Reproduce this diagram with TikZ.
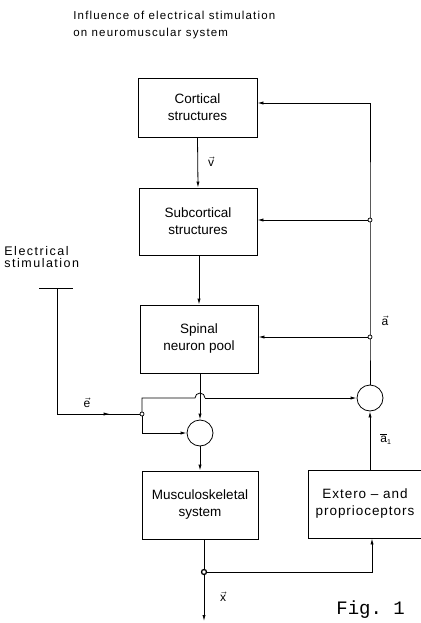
\documentclass[tikz,border=0pt]{standalone}
\usepackage{fontspec}
\setmainfont{Liberation Sans}
\setmonofont{Liberation Mono}
\usetikzlibrary{arrows.meta,decorations.markings}
\begin{document}
\begin{tikzpicture}[x=1pt,y=-1pt,line width=0.8pt,
  box/.style={draw,align=center,inner sep=0pt,font=\fontsize{13.5}{17}\selectfont},
  sumnode/.style={draw,circle,minimum size=26pt,inner sep=0pt},
  arr/.style={-{Latex[length=6pt,width=3.2pt]}},
  jdot/.style={circle,draw,fill=white,inner sep=0pt,minimum size=4pt,line width=0.7pt},
  lab/.style={font=\fontsize{12}{14}\selectfont,inner sep=1pt},
  midarr/.style={decoration={markings,mark=at position #1 with {\arrow{Latex[length=6pt,width=3.2pt]}}},postaction={decorate}}]
\useasboundingbox (0,0) rectangle (420,623);

% title
\node[anchor=north west,align=left,inner sep=0pt,
      font=\addfontfeatures{LetterSpace=10}\fontsize{11.5}{17}\selectfont] (title) at (73,11)
  {Influence of electrical stimulation\\on neuromuscular system};

% boxes
\node[box,minimum width=119pt,minimum height=59pt] (cort) at (197.5,107.5) {Cortical\\structures};
\node[box,minimum width=118pt,minimum height=67pt] (sub) at (198,221.5) {Subcortical\\structures};
\node[box,minimum width=118pt,minimum height=68pt] (spin) at (199,339) {Spinal\\neuron pool};
\node[box,minimum width=116pt,minimum height=68pt] (musc) at (200,505) {Musculoskeletal\\system};
\node[box,minimum width=114pt,minimum height=68pt,
      font=\addfontfeatures{LetterSpace=7}\fontsize{13.5}{17}\selectfont] (ext) at (365,504) {Extero -- and\\proprioceptors};

% summing circles
\node[sumnode] (sum1) at (200,433) {};
\node[sumnode] (sum2) at (370,398) {};

% forward chain
\draw[arr] (cort.south) -- (sub.north);
\draw[arr] (sub.south) -- (spin.south |- sub.south) -- (spin.north);
\draw[arr] (sum1.north |- spin.south) -- (sum1.north);
\draw[arr] (sum1.south) -- (sum1.south |- musc.north);

% feedback line
\coordinate (jc) at (370,103);
\coordinate (js) at (370,220);
\coordinate (jp) at (370,337);
\draw (sum2.north) -- (jp) -- (js) -- (jc);
\draw[arr] (jc) -- (jc -| cort.east);
\draw[arr] (js) -- (js -| sub.east);
\draw[arr] (jp) -- (jp -| spin.east);
\node[jdot] (djs) at (js) {};
\node[jdot] (djp) at (jp) {};

% output and receptor loop
\coordinate (xo) at (204,572);
\coordinate (ec) at (372,572);
\coordinate (xend) at (204,621);
\draw (xo |- musc.south) -- (xo);
\draw[arr] (xo) -- (xend);
\draw[arr] (xo) -- (ec) -- (ec |- ext.south);
\draw[arr] (sum2.south |- ext.north) -- (sum2.south);
\node[circle,draw,fill=white,inner sep=0pt,minimum size=5pt,line width=1.3pt] (dxo) at (xo) {};

% electrical stimulation
\node[anchor=south west,align=left,inner sep=0pt,
      font=\addfontfeatures{LetterSpace=12}\fontsize{12.5}{11.5}\selectfont] (elab) at (4,268)
  {Electrical\\stimulation};
\coordinate (Tl) at (39,288);
\coordinate (Tr) at (73,288);
\coordinate (T) at (57,288);
\coordinate (Tb) at (57,414);
\coordinate (ed) at (142,414);
\draw (Tl) -- (Tr);
\draw (T) -- (Tb);
\draw[midarr=0.62] (Tb) -- (ed);
\coordinate (eu) at (142,398);
\coordinate (hop) at (195,398);
\coordinate (el) at (142,433);
\draw (ed) -- (eu) -- (hop) arc (180:360:5);
\draw[arr] (205,398) -- (sum2.west);
\draw[arr] (ed) -- (el) -- (sum1.west);
\node[jdot] (ded) at (ed) {};

% labels
\node[lab] (lv) at (211,162) {$\vec{\mbox{v}}$};
\node[lab] (la) at (385,321) {$\vec{\mbox{a}}$};
\node[lab] (la1) at (386,439) {$\overline{\mbox{a}}_{\mbox{\fontsize{7}{8}\selectfont 1}}$};
\node[lab] (le) at (87,403) {$\vec{\mbox{e}}$};
\node[lab] (lx) at (223,597) {$\vec{\mbox{x}}$};

% figure caption
\node[anchor=base west,inner sep=0pt,font=\ttfamily\fontsize{19}{21}\selectfont] (fig) at (336,614) {Fig. 1};
\end{tikzpicture}
\end{document}
